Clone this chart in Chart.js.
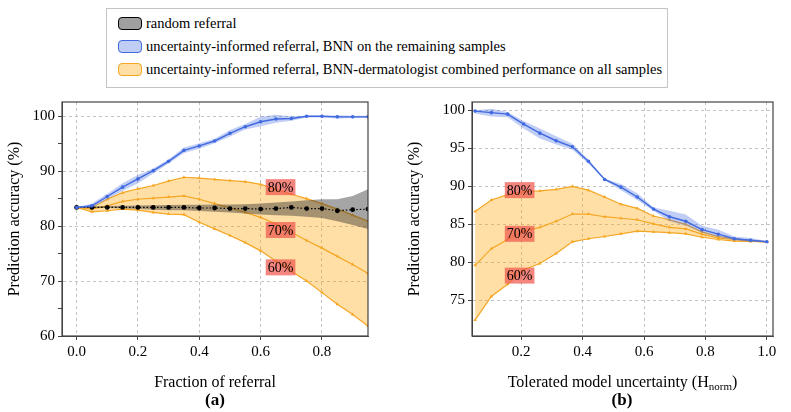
<!DOCTYPE html>
<html>
<head>
<meta charset="utf-8">
<script src="https://cdn.jsdelivr.net/npm/chart.js@4.4.1/dist/chart.umd.min.js"></script>
<style>
body { margin:0; background:#fff; width:791px; height:412px; overflow:hidden; position:relative; font-family:'Liberation Serif', 'Times New Roman', serif; }
#legend { position:absolute; left:106px; top:8px; width:562px; height:80px; border:1.5px solid #c4c4c4; background:#fff; box-sizing:border-box; }
.row { position:absolute; left:11px; height:20px; line-height:20px; font-size:14.5px; color:#000; white-space:nowrap; }
.patch { display:inline-block; width:22px; height:11px; border-radius:4px; border:1.5px solid; vertical-align:middle; margin-right:4px; position:relative; top:-1px; }
canvas { position:absolute; }
.sub { position:absolute; top:390px; font-weight:bold; font-size:17px; width:60px; text-align:center; }
</style>
</head>
<body>
<div id="legend">
  <div class="row" style="top:4px"><span class="patch" style="background:#a0a0a0;border-color:#000"></span>random referral</div>
  <div class="row" style="top:27px"><span class="patch" style="background:#c0cdf4;border-color:#4169e1"></span>uncertainty-informed referral, BNN on the remaining samples</div>
  <div class="row" style="top:50px"><span class="patch" style="background:#ffdfa6;border-color:#f5a623"></span>uncertainty-informed referral, BNN-dermatologist combined performance on all samples</div>
</div>
<canvas id="chartA" width="400" height="322" style="left:0;top:90px"></canvas>
<canvas id="chartB" width="391" height="322" style="left:400px;top:90px"></canvas>
<div class="sub" style="left:185px">(a)</div>
<div class="sub" style="left:592px">(b)</div>
<script>
// (a) fraction of referral
var fracReferral = [0, 0.05, 0.1, 0.15, 0.2, 0.25, 0.3, 0.35, 0.4, 0.45, 0.5, 0.55, 0.6, 0.65, 0.7, 0.75, 0.8, 0.85, 0.9, 0.95];
var randomAcc = [83.4, 83.4, 83.4, 83.4, 83.4, 83.4, 83.4, 83.4, 83.3, 83.3, 83.2, 83.2, 83.1, 83.2, 83.4, 83.2, 83.2, 82.8, 83.0, 83.1];
var randomHi  = [83.4, 83.6, 83.65, 83.7, 83.75, 83.8, 83.85, 83.9, 83.9, 83.95, 83.95, 84.0, 84.1, 84.3, 84.5, 84.7, 84.9, 84.9, 85.5, 86.7];
var randomLo  = [83.4, 83.3, 83.3, 83.2, 83.1, 83.0, 82.9, 82.9, 82.75, 82.6, 82.5, 82.3, 82.1, 82.0, 81.9, 81.7, 81.5, 80.9, 80.2, 79.5];
var bnnAccA = [83.4, 83.7, 85.4, 87.1, 88.6, 90.1, 91.8, 93.8, 94.6, 95.5, 96.9, 98.1, 99.0, 99.5, 99.6, 100, 100, 99.9, 99.9, 99.9];
var bnnHiA  = [83.4, 84.1, 85.9, 87.8, 89.3, 90.5, 92.2, 94.3, 95.1, 95.9, 97.5, 98.6, 99.9, 100.3, 100.0, 100.1, 100.1, 100.2, 100.1, 100.1];
var bnnLoA  = [83.4, 83.3, 84.9, 86.4, 87.8, 89.6, 91.4, 93.3, 94.1, 95.1, 96.3, 97.6, 98.2, 98.8, 99.2, 99.8, 99.8, 99.6, 99.7, 99.7];
var comb80A = [83.4, 83.4, 84.9, 86.1, 86.8, 87.4, 88.2, 88.9, 88.75, 88.5, 88.3, 88.1, 87.6, 86.7, 85.8, 85.0, 84.1, 83.1, 82.0, 80.9];
var comb70A = [83.4, 83.1, 83.7, 84.5, 84.9, 85.1, 85.3, 85.5, 84.9, 84.1, 83.3, 82.5, 81.6, 80.4, 78.9, 77.4, 76.0, 74.5, 73.0, 71.4];
var comb60A = [83.4, 82.6, 82.8, 83.1, 82.9, 82.5, 82.2, 82.1, 80.7, 79.5, 78.3, 77.0, 75.5, 73.6, 71.8, 70.0, 67.9, 65.8, 63.9, 61.8];

// (b) tolerated model uncertainty
var tolUncert = [0.05, 0.103, 0.156, 0.208, 0.261, 0.314, 0.367, 0.419, 0.472, 0.525, 0.578, 0.631, 0.683, 0.736, 0.789, 0.842, 0.894, 0.947, 1.0];
var bnnAccB = [99.9, 99.7, 99.5, 98.2, 97.0, 96.0, 95.2, 93.3, 90.9, 89.9, 88.6, 87.0, 86.0, 85.4, 84.3, 83.7, 83.1, 82.9, 82.7];
var bnnHiB  = [100.0, 100.2, 99.8, 98.6, 97.6, 96.6, 95.6, 93.5, 91.0, 90.3, 89.1, 87.2, 86.8, 86.3, 84.8, 84.3, 83.4, 83.2, 82.8];
var bnnLoB  = [99.6, 99.2, 99.1, 97.6, 96.3, 95.5, 94.8, 93.0, 90.8, 89.5, 88.2, 86.8, 85.4, 84.8, 83.9, 83.3, 82.9, 82.7, 82.6];
var comb80B = [86.7, 88.2, 88.9, 89.3, 89.4, 89.6, 90.0, 89.5, 88.6, 87.65, 87.1, 86.1, 85.6, 85.0, 84.0, 83.4, 83.1, 82.9, 82.7];
var comb70B = [79.6, 81.8, 83.0, 84.1, 84.6, 85.4, 86.35, 86.35, 86.0, 85.8, 85.6, 85.05, 84.6, 84.4, 83.7, 83.2, 83.0, 82.8, 82.7];
var comb60B = [72.4, 75.5, 77.1, 79.0, 79.85, 81.15, 82.7, 83.1, 83.4, 83.75, 84.1, 84.0, 83.9, 83.75, 83.3, 83.0, 82.8, 82.75, 82.7];

var xTicksA = [0, 0.2, 0.4, 0.6, 0.8];
var yTicksA = [60, 65, 70, 75, 80, 85, 90, 95, 100];
var xTicksB = [0.2, 0.4, 0.6, 0.8, 1.0];
var yTicksB = [75, 80, 85, 90, 95, 100];
var bandLabels = ['80%', '70%', '60%'];

var FONT = "'Liberation Serif', 'Times New Roman', serif";
var BLUE = '#4169e1', ORANGE = '#f5a623';

function pts(xs, ys) {
	return xs.map(function(x, i){ return {x: x, y: ys[i]}; });
}

function buildDatasets(xs, d) {
	return [
		{ data: pts(xs, d.bnn), borderColor: BLUE, backgroundColor: BLUE, borderWidth: 1.4, pointRadius: 1.8, pointBorderWidth: 0, fill: false },
		{ data: pts(xs, d.bnnHi), borderWidth: 0, borderColor: 'transparent', pointRadius: 0, fill: false },
		{ data: pts(xs, d.bnnLo), borderWidth: 0, borderColor: 'transparent', pointRadius: 0, fill: '-1', backgroundColor: 'rgba(65,105,225,0.33)' },
		{ data: pts(xs, d.rnd), borderColor: '#000', backgroundColor: '#000', borderWidth: 1.2, borderDash: [1.5, 2], pointRadius: 2.4, pointBorderWidth: 0, fill: false },
		{ data: pts(xs, d.rndHi), borderWidth: 0, borderColor: 'transparent', pointRadius: 0, fill: false },
		{ data: pts(xs, d.rndLo), borderWidth: 0, borderColor: 'transparent', pointRadius: 0, fill: '-1', backgroundColor: 'rgba(40,40,40,0.42)' },
		{ data: pts(xs, d.c80), borderColor: ORANGE, backgroundColor: ORANGE, borderWidth: 1.2, pointStyle: 'triangle', pointRadius: 2, pointBorderWidth: 0, fill: false },
		{ data: pts(xs, d.c70), borderColor: ORANGE, backgroundColor: ORANGE, borderWidth: 1.2, pointStyle: 'triangle', pointRadius: 2, pointBorderWidth: 0, fill: false },
		{ data: pts(xs, d.c60), borderColor: ORANGE, backgroundColor: 'rgba(255,170,20,0.38)', pointBackgroundColor: ORANGE, borderWidth: 1.2, pointStyle: 'triangle', pointRadius: 2, pointBorderWidth: 0, fill: 6 }
	];
}

var framePlugin = {
	id: 'frame',
	afterDatasetsDraw: function(chart, args, opts) {
		var ctx = chart.ctx, sx = chart.scales.x, sy = chart.scales.y;
		ctx.save();
		ctx.font = '14px ' + FONT;
		ctx.textAlign = 'center';
		ctx.textBaseline = 'middle';
		opts.labels.forEach(function(l){
			var px = sx.getPixelForValue(l.x), py = sy.getPixelForValue(l.y);
			var w = ctx.measureText(l.text).width + 4;
			ctx.fillStyle = 'rgba(240,88,78,0.72)';
			ctx.fillRect(px - w / 2, py - 8, w, 16);
			ctx.fillStyle = '#000';
			ctx.fillText(l.text, px, py + 1);
		});
		ctx.restore();
	},
	afterDraw: function(chart, args, opts) {
		var a = chart.chartArea, ctx = chart.ctx;
		ctx.save();
		ctx.strokeStyle = '#444';
		ctx.lineWidth = 1.2;
		ctx.strokeRect(a.left, a.top, a.right - a.left, a.bottom - a.top);
		// x axis title, with an optional subscript part
		var t = opts.xTitle, cx = (a.left + a.right) / 2, ty = a.bottom + 47;
		ctx.fillStyle = '#000';
		ctx.textBaseline = 'middle';
		ctx.textAlign = 'left';
		ctx.font = '16px ' + FONT;
		var w1 = ctx.measureText(t.main).width, w3 = ctx.measureText(t.end).width;
		ctx.font = '11px ' + FONT;
		var w2 = t.sub ? ctx.measureText(t.sub).width : 0;
		var x0 = cx - (w1 + w2 + w3) / 2;
		ctx.font = '16px ' + FONT;
		ctx.fillText(t.main, x0, ty);
		if (t.sub) {
			ctx.font = '11px ' + FONT;
			ctx.fillText(t.sub, x0 + w1, ty + 4);
			ctx.font = '16px ' + FONT;
		}
		ctx.fillText(t.end, x0 + w1 + w2, ty);
		ctx.restore();
	}
};

function makeOptions(c) {
	return {
		responsive: false,
		animation: false,
		layout: { padding: { left: 0, top: 8, right: c.padRight, bottom: 16 } },
		plugins: {
			legend: { display: false },
			tooltip: { enabled: false },
			frame: { labels: c.labels, xTitle: c.xTitle }
		},
		scales: {
			x: {
				type: 'linear', min: c.xMin, max: c.xMax,
				afterBuildTicks: function(s){ s.ticks = c.xTicks.map(function(v){ return {value: v}; }); },
				afterFit: function(s){ s.height = 60; },
				ticks: { font: { family: FONT, size: 15 }, color: '#000', padding: 3, maxRotation: 0, autoSkip: false,
					callback: function(v){ return v.toFixed(1); } },
				grid: { color: '#b4b4b4', lineWidth: 0.8, tickLength: 4, tickColor: '#444', tickWidth: 1 },
				border: { dash: [3, 3], color: '#444', width: 1 }
			},
			y: {
				type: 'linear', min: c.yMin, max: c.yMax,
				afterBuildTicks: function(s){ s.ticks = c.yTicks.map(function(v){ return {value: v}; }); },
				afterFit: function(s){ s.width = c.yWidth; },
				ticks: { font: { family: FONT, size: 15 }, color: '#000', padding: 3, autoSkip: false,
					callback: function(v){ return v % c.yMajor === 0 ? v : ''; } },
				grid: { color: function(ctx){ return ctx.tick && ctx.tick.value % c.yMajor === 0 ? '#b4b4b4' : 'transparent'; },
					lineWidth: 0.8, tickLength: 4, tickColor: '#444', tickWidth: 1 },
				border: { dash: [3, 3], color: '#444', width: 1 },
				title: { display: true, text: 'Prediction accuracy (%)', font: { family: FONT, size: 16 }, color: '#000', padding: { top: 5, bottom: 0 } }
			}
		}
	};
}

new Chart(document.getElementById('chartA'), {
	type: 'line',
	data: { datasets: buildDatasets(fracReferral, {
		bnn: bnnAccA, bnnHi: bnnHiA, bnnLo: bnnLoA,
		rnd: randomAcc, rndHi: randomHi, rndLo: randomLo,
		c80: comb80A, c70: comb70A, c60: comb60A }) },
	options: makeOptions({
		xMin: -0.0475, xMax: 0.95, yMin: 60, yMax: 102.6, xTicks: xTicksA, yTicks: yTicksA, yMajor: 10,
		yWidth: 62, padRight: 32, xTitle: { main: 'Fraction of referral', sub: '', end: '' },
		labels: [
			{ text: bandLabels[0], x: 0.665, y: 87.1 },
			{ text: bandLabels[1], x: 0.665, y: 79.3 },
			{ text: bandLabels[2], x: 0.665, y: 72.5 }
		] }),
	plugins: [framePlugin]
});

new Chart(document.getElementById('chartB'), {
	type: 'line',
	data: { datasets: buildDatasets(tolUncert, {
		bnn: bnnAccB, bnnHi: bnnHiB, bnnLo: bnnLoB,
		rnd: [], rndHi: [], rndLo: [],
		c80: comb80B, c70: comb70B, c60: comb60B }) },
	options: makeOptions({
		xMin: 0.04, xMax: 1.02, yMin: 70.3, yMax: 101.1, xTicks: xTicksB, yTicks: yTicksB, yMajor: 5,
		yWidth: 72, padRight: 18, xTitle: { main: 'Tolerated model uncertainty (H', sub: 'norm', end: ')' },
		labels: [
			{ text: bandLabels[0], x: 0.195, y: 89.5 },
			{ text: bandLabels[1], x: 0.195, y: 83.75 },
			{ text: bandLabels[2], x: 0.195, y: 78.25 }
		] }),
	plugins: [framePlugin]
});
</script>
</body>
</html>
